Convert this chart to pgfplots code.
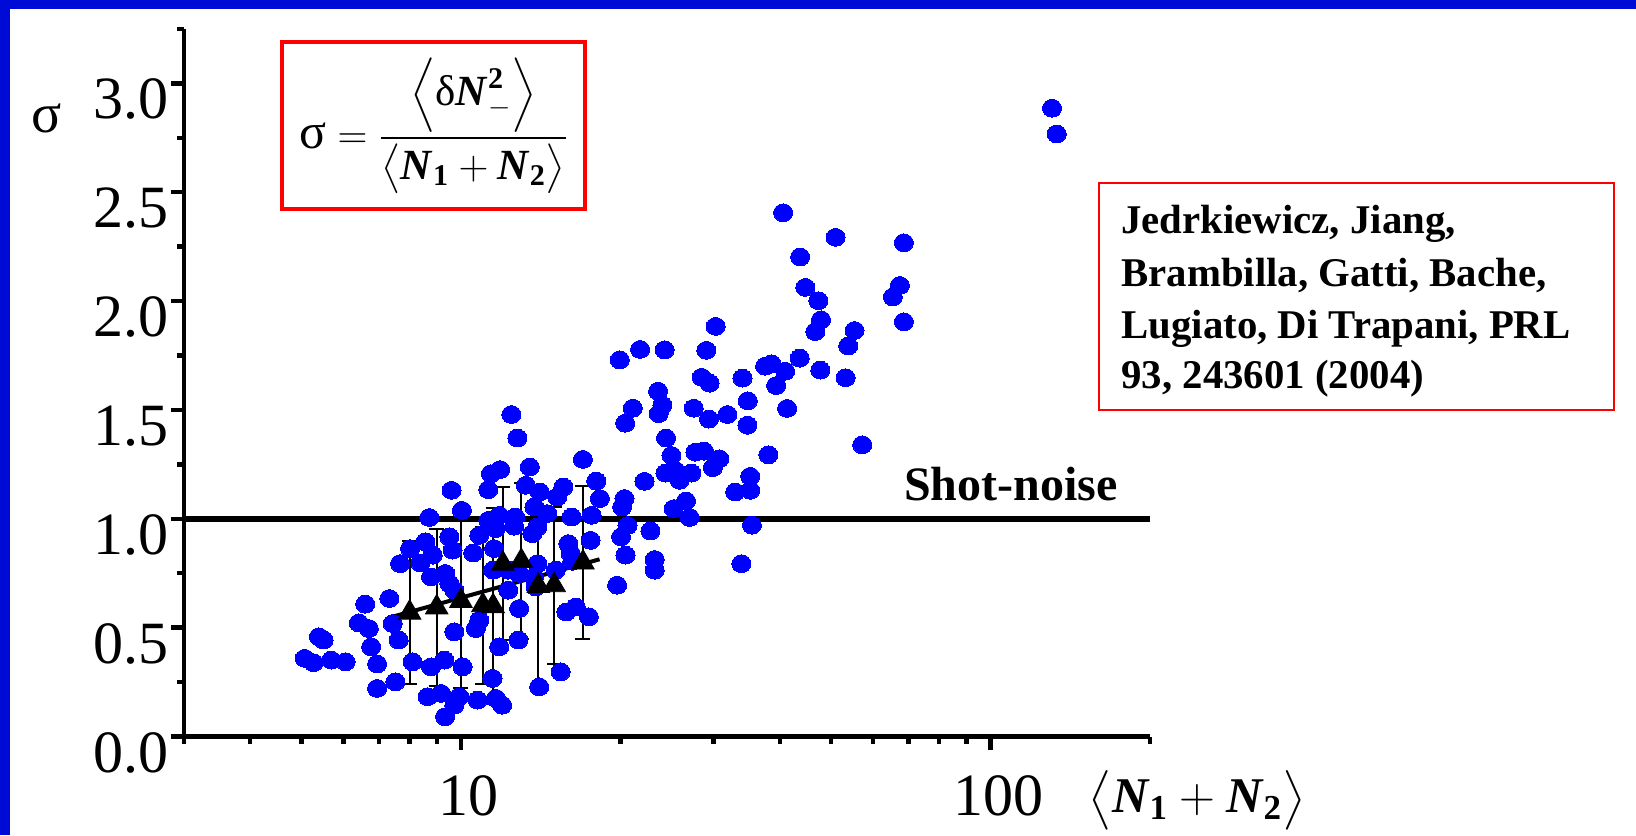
\documentclass[border=0pt]{standalone}
\usepackage{amsmath}
\usepackage{fontspec}
\setmainfont{Liberation Serif}
\usepackage{pgfplots}
\pgfplotsset{compat=1.18}

\definecolor{frameblue}{RGB}{0,10,215}
\definecolor{dotblue}{RGB}{0,0,255}

% sigma of single shots versus mean photon number
\pgfplotstableread{
x y
130.6 2.886
133.3 2.768
40.58 2.406
50.97 2.293
68.59 2.268
43.69 2.203
44.70 2.063
47.29 2.002
67.40 2.072
65.39 2.019
47.84 1.914
46.68 1.860
68.59 1.905
55.35 1.865
53.86 1.794
30.26 1.884
19.95 1.730
21.79 1.778
24.25 1.776
29.06 1.774
43.61 1.738
37.53 1.701
38.58 1.712
40.94 1.678
39.37 1.612
47.70 1.683
53.23 1.648
28.48 1.650
29.48 1.623
34.01 1.646
23.56 1.586
21.11 1.508
20.42 1.439
24.01 1.522
23.63 1.483
27.51 1.508
29.39 1.458
31.84 1.479
34.80 1.542
34.75 1.430
41.29 1.507
57.23 1.340
24.39 1.371
24.97 1.291
27.71 1.306
28.76 1.311
30.74 1.276
29.90 1.235
38.07 1.294
24.33 1.210
25.41 1.222
25.88 1.177
27.23 1.210
22.21 1.172
35.17 1.195
32.96 1.123
35.17 1.131
20.36 1.093
20.15 1.054
20.63 0.969
22.79 0.944
20.06 0.917
20.45 0.833
23.22 0.813
23.22 0.764
19.72 0.695
25.22 1.047
26.60 1.082
27.03 1.006
35.43 0.971
33.85 0.794
12.45 1.479
12.78 1.371
16.99 1.273
13.49 1.238
11.86 1.226
11.39 1.207
18.01 1.173
11.26 1.134
9.60 1.131
13.26 1.154
14.09 1.123
15.61 1.146
15.20 1.100
18.30 1.093
13.76 1.054
14.56 1.024
16.18 1.008
17.65 1.016
8.715 1.006
10.04 1.039
11.27 0.993
11.81 1.016
12.66 1.008
13.64 0.932
13.94 0.962
12.60 0.966
11.64 0.955
10.83 0.924
8.566 0.894
8.017 0.863
7.675 0.794
8.383 0.797
8.843 0.833
9.506 0.917
9.643 0.856
10.55 0.843
11.55 0.863
15.95 0.886
16.12 0.840
17.57 0.901
16.23 0.805
12.29 0.764
11.50 0.764
13.94 0.794
15.10 0.764
13.74 0.733
12.88 0.749
9.342 0.749
8.780 0.733
9.506 0.703
9.714 0.672
12.28 0.672
13.84 0.687
7.328 0.634
7.434 0.519
7.630 0.443
8.104 0.343
8.780 0.320
9.302 0.351
10.07 0.320
9.714 0.481
10.67 0.496
10.83 0.534
12.88 0.588
11.81 0.412
12.84 0.443
16.47 0.595
15.81 0.572
17.44 0.550
15.43 0.297
14.05 0.228
11.47 0.267
7.522 0.251
8.652 0.183
9.170 0.198
9.926 0.183
10.75 0.167
11.64 0.175
11.96 0.144
9.714 0.144
9.333 0.091
5.069 0.359
5.270 0.339
5.690 0.351
6.055 0.343
5.393 0.458
5.505 0.443
6.596 0.608
6.415 0.522
6.699 0.496
6.768 0.412
6.946 0.333
6.946 0.221
}\shots

% binned averages with their spread
\pgfplotstableread{
x y e
8.0  0.569 0.33
9.0  0.593 0.36
10.0 0.623 0.40
11.0 0.603 0.36
11.5 0.599 0.45
12.0 0.794 0.35
13.0 0.806 0.36
14.0 0.692 0.45
15.0 0.695 0.36
17.0 0.799 0.35
}\binned

\begin{document}
\begin{tikzpicture}[x=1pt,y=1pt]
\useasboundingbox (0,0) rectangle (818,-417.5);
\fill[white] (0,0) rectangle (818,-417.5);
\fill[frameblue] (0,0) rectangle (5,-417.5);
\fill[frameblue] (0,0) rectangle (818,-4.5);

\begin{axis}[
  at={(92pt,-368.25pt)}, anchor=south west,
  scale only axis, width=483pt, height=353.75pt,
  xmode=log, xmin=3, xmax=200, ymin=0, ymax=3.25,
  axis x line*=bottom, axis y line*=left,
  axis line style={line width=2.4pt, -},
  tick align=outside,
  major tick length=6.5pt, minor tick length=3.5pt,
  every tick/.append style={black, line width=2.2pt},
  xtick={10,100}, xticklabels={10,100},
  minor xtick={3,4,5,6,7,8,9,20,30,40,50,60,70,80,90,200},
  ytick={0,0.5,1,1.5,2,2.5,3}, yticklabels={0.0,0.5,1.0,1.5,2.0,2.5,3.0},
  minor ytick={0.25,0.75,1.25,1.75,2.25,2.75,3.25},
  /pgf/number format/assume math mode=true,
  tick label style={font=\fontsize{30}{30}\selectfont, inner sep=0pt},
  xticklabel style={anchor=north, yshift=-12.75pt, xshift=4pt},
  yticklabel style={anchor=north east, yshift=2.4pt, xshift=-1pt},
  clip=false,
]
% shot-noise level
\addplot[black, line width=3.3pt] coordinates {(3,1) (200,1)};
% single-shot data
\addplot[only marks, color=dotblue, mark=*, mark size=4.45pt,
  mark options={fill=dotblue, draw=dotblue, line width=0pt, xscale=1.07}] table {\shots};
% logarithmic fit through the binned averages
\addplot[black, line width=2pt] coordinates {(7.42,0.550) (18.27,0.814)};
% binned averages
\addplot[only marks, mark=triangle*, mark size=6.5pt, black,
  error bars/.cd, y dir=both, y explicit,
  error bar style={line width=1pt, black},
  error mark=-,
  error mark options={rotate=90, line width=1pt, mark size=3.75pt, black}]
  table[x=x, y=y, y error=e] {\binned};

\node[anchor=base east, inner sep=0pt, font=\fontsize{24}{24}\selectfont\bfseries]
  at (axis cs:174,1.085) {Shot-noise};
\node[inner sep=0pt, font=\fontsize{28}{28}\selectfont]
  at (rel axis cs:-0.1418,0.874) {σ};
\node[inner sep=0pt, font=\fontsize{25}{25}\selectfont]
  at (rel axis cs:1.0487,-0.0898)
  {$\bigl\langle \textbf{\textit{N}}_{\textbf{1}} + \textbf{\textit{N}}_{\textbf{2}} \bigr\rangle$};
\end{axis}

% definition of sigma
\draw[red, line width=1.75pt] (141,-21) rectangle (292.5,-104.5);
\node[inner sep=0pt, font=\fontsize{21.5}{21.5}\selectfont] at (216.75,-62.75)
  {$\text{\fontsize{25}{25}\selectfont σ} = \dfrac{\Bigl\langle \text{δ}\textbf{\textit{N}}^{\textbf{2}}_{-}\Bigr\rangle}
   {\bigl\langle \textbf{\textit{N}}_{\textbf{1}} + \textbf{\textit{N}}_{\textbf{2}}\bigr\rangle}$};

% reference
\draw[red, line width=1pt] (549.5,-91.5) rectangle (807,-205);
\begin{scope}[every node/.style={anchor=base west, inner sep=0pt,
    font=\fontsize{20.4}{20.4}\selectfont\bfseries}]
\node at (560.5,-116.7) {Jedrkiewicz, Jiang,};
\node at (560.5,-143.3) {Brambilla, Gatti, Bache,};
\node at (560.5,-169.2) {Lugiato, Di Trapani, PRL};
\node at (560.5,-194.2) {93, 243601 (2004)};
\end{scope}
\end{tikzpicture}
\end{document}
